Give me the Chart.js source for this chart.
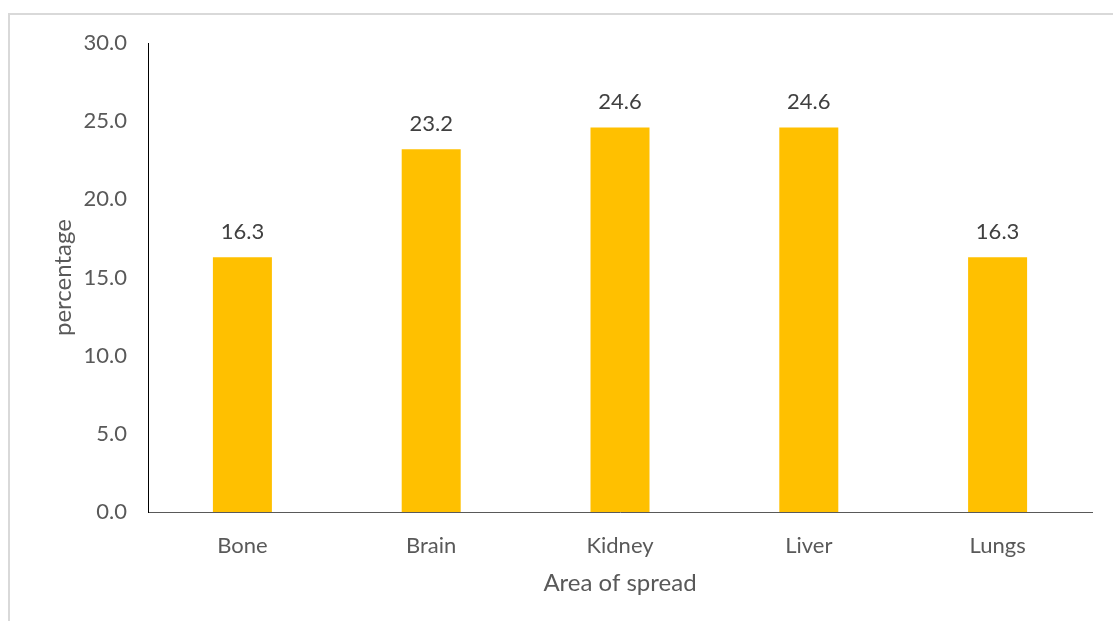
<!DOCTYPE html>
<html>
<head>
<meta charset="utf-8">
<script src="https://cdn.jsdelivr.net/npm/chart.js@4"></script>
<style>
  html, body { margin: 0; padding: 0; background: #fff; overflow: hidden; }
  #wrap { position: relative; width: 1113px; height: 621px; }
  #frame {
    position: absolute; left: 8px; top: 13px; width: 1200px; height: 700px;
    border-left: 2px solid #d9d9d9; border-top: 2px solid #d9d9d9;
  }
  #spread { position: absolute; left: 0; top: 0; }
</style>
</head>
<body>
<div id="wrap">
  <div id="frame"></div>
  <canvas id="spread" width="1113" height="621"></canvas>
</div>
<script>
const areas = ['Bone', 'Brain', 'Kidney', 'Liver', 'Lungs'];
const percentages = [16.3, 23.2, 24.6, 24.6, 16.3];
const yTicks = [0, 5, 10, 15, 20, 25, 30];

const font = 'Lato';

// prints the value over each bar
const barValues = {
  id: 'barValues',
  afterDatasetsDraw(chart) {
    const ctx = chart.ctx;
    const meta = chart.getDatasetMeta(0);
    ctx.save();
    ctx.font = '22px ' + font;
    ctx.fillStyle = '#404040';
    ctx.textAlign = 'center';
    ctx.textBaseline = 'alphabetic';
    meta.data.forEach((bar, i) => {
      ctx.fillText(percentages[i].toFixed(1), bar.x, bar.y - 18);
    });
    ctx.restore();
  }
};

const spread = document.querySelector('#spread');

new Chart(spread, {
  type: 'bar',
  data: {
    labels: areas,
    datasets: [{
      label: 'percentage',
      data: percentages,
      backgroundColor: '#FFC000',
      borderWidth: 0,
      barPercentage: 0.3125,
      categoryPercentage: 1
    }]
  },
  options: {
    responsive: false,
    animation: false,
    devicePixelRatio: 1,
    layout: {
      padding: { top: 43, right: 21, left: 0, bottom: 0 }
    },
    plugins: {
      legend: { display: false },
      tooltip: { enabled: false }
    },
    scales: {
      x: {
        grid: { display: false, drawTicks: false },
        border: { color: '#595959', width: 1 },
        ticks: {
          color: '#595959',
          padding: 21,
          font: { family: font, size: 22 }
        },
        title: {
          display: true,
          text: 'Area of spread',
          color: '#595959',
          font: { family: font, size: 24 },
          padding: { top: 0, bottom: 23 }
        },
        afterFit(scale) {
          scale.height = 109;
        }
      },
      y: {
        min: 0,
        max: 30,
        grid: { display: false, drawTicks: false },
        border: { color: '#000000', width: 1 },
        afterBuildTicks(scale) {
          scale.ticks = yTicks.map(v => ({ value: v }));
        },
        ticks: {
          color: '#595959',
          padding: 21,
          font: { family: font, size: 22 },
          callback: v => Number(v).toFixed(1)
        },
        title: {
          display: true,
          text: 'percentage',
          color: '#595959',
          font: { family: font, size: 24 },
          padding: { top: 49, bottom: 0 }
        },
        afterFit(scale) {
          scale.width = 148;
        }
      }
    }
  },
  plugins: [barValues]
});
</script>
</body>
</html>
